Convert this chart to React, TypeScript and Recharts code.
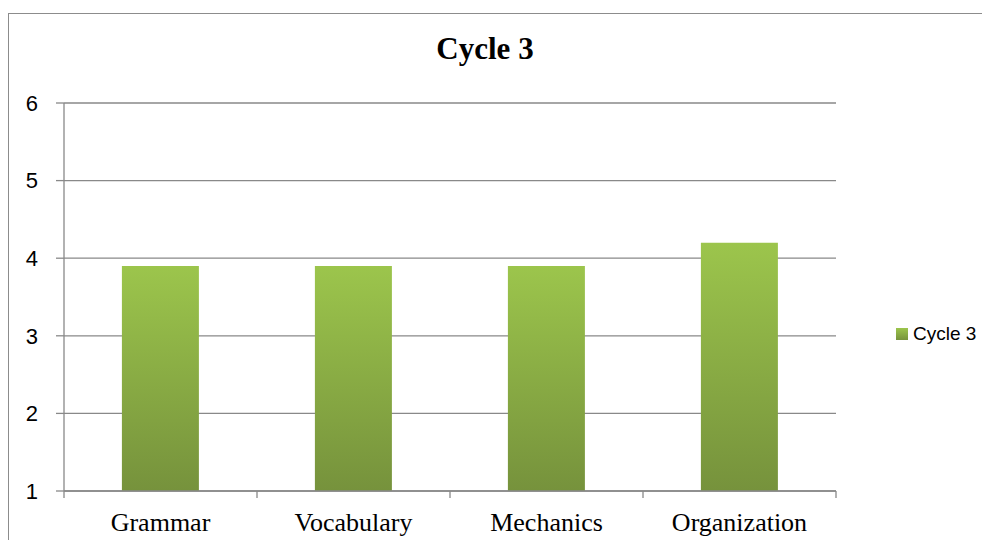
import React from "react";
import {
  BarChart,
  Bar,
  XAxis,
  YAxis,
  CartesianGrid,
} from "recharts";

const categories = ["Grammar", "Vocabulary", "Mechanics", "Organization"];
const cycle3 = [3.9, 3.9, 3.9, 4.2];
const yTicks = [1, 2, 3, 4, 5, 6];
const seriesName = "Cycle 3";

const data = categories.map((name, i) => ({ name, cycle3: cycle3[i] }));

const W = 990;
const H = 548;
const margin = { top: 103, right: 154, bottom: 0, left: 8 };
const yAxisWidth = 56;
const plotWidth = W - margin.left - margin.right - yAxisWidth;
const band = plotWidth / categories.length;
const gridColor = "#898989";

function CategoryTick(props: any) {
  const { x, y, payload, index } = props;
  const left = x - band / 2;
  const right = x + band / 2;
  return (
    <g>
      <line x1={left} y1={y} x2={left} y2={y + 7} stroke={gridColor} strokeWidth={1.3} />
      {index === categories.length - 1 && (
        <line x1={right} y1={y} x2={right} y2={y + 7} stroke={gridColor} strokeWidth={1.3} />
      )}
      <text
        x={x}
        y={y + 40}
        textAnchor="middle"
        fill="#000"
        style={{ fontFamily: "'Liberation Serif', 'Times New Roman', serif", fontSize: 26 }}
      >
        {payload.value}
      </text>
    </g>
  );
}

export default function App() {
  return (
    <div style={{ position: "relative", width: W, height: H, margin: -8, overflow: "hidden", background: "#fff" }}>
      <div
        style={{
          position: "absolute",
          left: 8,
          top: 13,
          width: 1100,
          height: 700,
          border: "1.5px solid #8c8c8c",
        }}
      />
      <div
        style={{
          position: "absolute",
          left: 0,
          top: 33,
          width: 970,
          textAlign: "center",
          fontFamily: "'Liberation Serif', 'Times New Roman', serif",
          fontWeight: "bold",
          fontSize: 31,
          lineHeight: "31px",
          color: "#000",
        }}
      >
        {seriesName}
      </div>
      <div style={{ position: "absolute", left: 0, top: 0 }}>
        <BarChart width={W} height={H} data={data} margin={margin} barCategoryGap="30%">
          <defs>
            <linearGradient id="barGreen" x1="0" y1="0" x2="0" y2="1">
              <stop offset="0%" stopColor="#9cc54c" />
              <stop offset="100%" stopColor="#76923c" />
            </linearGradient>
          </defs>
          <CartesianGrid horizontal vertical={false} stroke={gridColor} strokeWidth={1.3} />
          <XAxis
            dataKey="name"
            height={57}
            tickSize={0}
            tickMargin={0}
            tickLine={false}
            axisLine={{ stroke: gridColor, strokeWidth: 1.3 }}
            tick={<CategoryTick />}
            interval={0}
          />
          <YAxis
            width={yAxisWidth}
            domain={[1, 6]}
            ticks={yTicks}
            tickSize={8}
            tickMargin={18}
            axisLine={{ stroke: gridColor, strokeWidth: 1.3 }}
            tickLine={{ stroke: gridColor, strokeWidth: 1.3 }}
            tick={{ fill: "#000", fontSize: 22, fontFamily: "'Liberation Sans', Arial, sans-serif" }}
            allowDataOverflow
          />
          <Bar dataKey="cycle3" name={seriesName} fill="url(#barGreen)" isAnimationActive={false} />
        </BarChart>
      </div>
      <div
        style={{
          position: "absolute",
          left: 896,
          top: 323,
          display: "flex",
          alignItems: "center",
          whiteSpace: "nowrap",
          fontFamily: "'Liberation Sans', Arial, sans-serif",
          fontSize: 19,
          color: "#000",
        }}
      >
        <span
          style={{
            display: "inline-block",
            width: 12,
            height: 12,
            marginRight: 5,
            background: "linear-gradient(#9cc54c, #77933c)",
          }}
        />
        {seriesName}
      </div>
    </div>
  );
}
